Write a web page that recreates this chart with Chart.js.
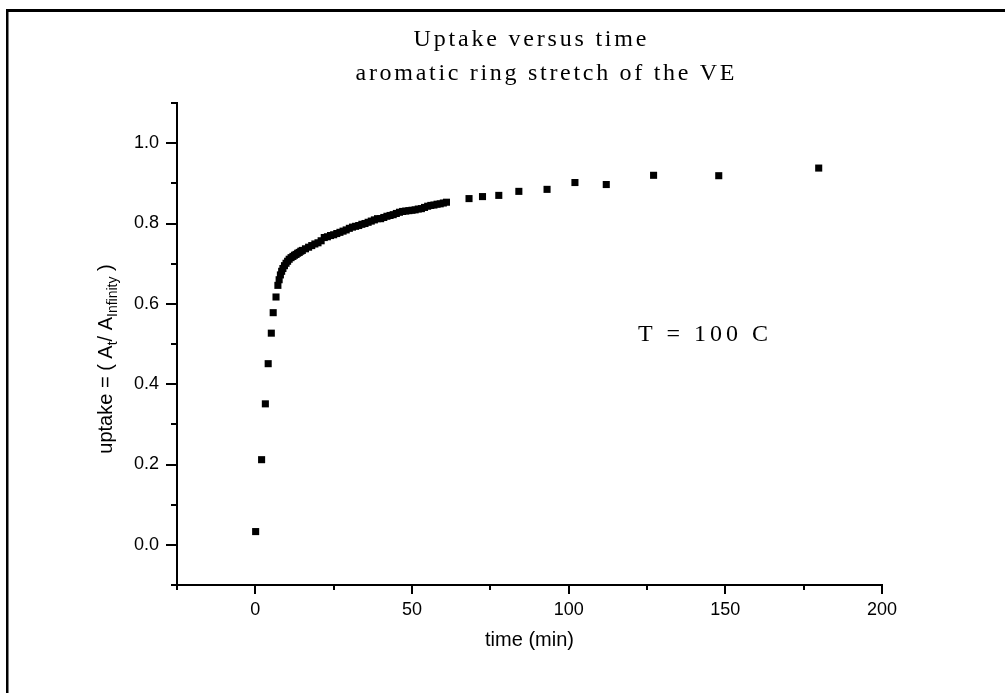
<!DOCTYPE html>
<html><head><meta charset="utf-8">
<script src="https://cdn.jsdelivr.net/npm/chart.js@4/dist/chart.umd.min.js"></script>
<style>html,body{margin:0;padding:0;background:#fff}#wrap{width:1005px;height:693px;position:relative}</style>
</head><body><div id="wrap"><canvas id="c" width="1005" height="693"></canvas></div>
<script>
const titleLines = ["Uptake versus time", "aromatic ring stretch of the VE"];
const xAxisTitle = "time (min)";
const yAxisTitleParts = [
  {text: "uptake = ( A", sub: false},
  {text: "t", sub: true},
  {text: "/ A", sub: false},
  {text: "Infinity", sub: true},
  {text: " )", sub: false}
];
const annotationText = "T = 100 C";
const xTickLabels = [0, 50, 100, 150, 200];
const yTickLabels = [0.0, 0.2, 0.4, 0.6, 0.8, 1.0];

const timeMin = [0.1, 2.0, 3.2, 4.1, 5.1, 5.7, 6.6, 7.2,
  7.6, 8.0, 8.4, 8.8, 9.3, 9.8, 10.3, 10.8, 11.4, 12, 12.5, 13, 13.5, 14, 14.5, 15,
  16, 17, 18, 19, 20, 21, 22, 23, 24, 25, 26, 27, 28, 29, 30,
  31, 32, 33, 34, 35, 36, 37, 38, 39, 40, 41, 42, 43, 44, 45, 46, 47, 48, 49, 50,
  51, 52, 53, 54, 55, 56, 57, 58, 59, 60, 61,
  68.2, 72.5, 77.7, 84.1, 93.1, 102.0, 112.0, 127.1, 147.9, 179.8];
const uptake = [0.033, 0.212, 0.351, 0.451, 0.527, 0.578, 0.617, 0.646,
  0.660, 0.672, 0.681, 0.688, 0.695, 0.701, 0.706, 0.711, 0.715, 0.718, 0.721, 0.723, 0.726, 0.728, 0.731, 0.733,
  0.737, 0.741, 0.745, 0.749, 0.752, 0.757, 0.765, 0.767, 0.770, 0.772, 0.775, 0.778, 0.781, 0.784, 0.788,
  0.791, 0.793, 0.795, 0.798, 0.800, 0.803, 0.806, 0.809, 0.812, 0.812, 0.815, 0.818, 0.820, 0.822, 0.825, 0.828, 0.830, 0.831, 0.832, 0.833,
  0.834, 0.836, 0.837, 0.840, 0.843, 0.845, 0.846, 0.848, 0.849, 0.851, 0.853,
  0.862, 0.867, 0.870, 0.880, 0.885, 0.902, 0.897, 0.920, 0.919, 0.938];

const SANS = "'Liberation Sans', Arial, sans-serif";
const SERIF = "'Liberation Serif', 'Times New Roman', serif";

function isMajorX(v){ return xTickLabels.some(t => Math.abs(t - v) < 1e-6); }
function isMajorY(v){ return yTickLabels.some(t => Math.abs(t - v) < 1e-6); }

function drawSpaced(ctx, text, cx, y, ls){
  ctx.letterSpacing = ls + 'px';
  const w = ctx.measureText(text).width - ls;
  ctx.textAlign = 'left';
  ctx.fillText(text, cx - w / 2, y);
  ctx.letterSpacing = '0px';
}

const decor = {
  id: 'decor',
  beforeDraw(chart){
    const ctx = chart.ctx;
    ctx.save();
    ctx.fillStyle = '#fff';
    ctx.fillRect(0, 0, chart.width, chart.height);
    ctx.restore();
  },
  afterDraw(chart){
    const ctx = chart.ctx;
    const area = chart.chartArea;
    const xs = chart.scales.x, ys = chart.scales.y;
    ctx.save();
    // outer frame
    ctx.fillStyle = '#000';
    ctx.fillRect(6, 9, 999, 3);
    ctx.fillRect(6, 9, 2.5, 684);
    // tick marks
    ctx.strokeStyle = '#000';
    ctx.lineWidth = 2;
    ctx.beginPath();
    xs.ticks.forEach(t => {
      const px = Math.round(xs.getPixelForValue(t.value));
      const len = isMajorX(t.value) ? 9 : 5;
      ctx.moveTo(px, area.bottom);
      ctx.lineTo(px, area.bottom + len);
    });
    ys.ticks.forEach(t => {
      const py = Math.round(ys.getPixelForValue(t.value));
      const len = isMajorY(t.value) ? 11 : 6;
      ctx.moveTo(area.left, py);
      ctx.lineTo(area.left - len, py);
    });
    ctx.stroke();
    // titles
    ctx.fillStyle = '#000';
    ctx.textBaseline = 'alphabetic';
    ctx.font = '24px ' + SERIF;
    drawSpaced(ctx, titleLines[0], 530, 46, 2.8);
    drawSpaced(ctx, titleLines[1], 545, 80, 2.7);
    // annotation
    ctx.font = '24px ' + SERIF;
    drawSpaced(ctx, annotationText, 703, 341, 4);
    // y axis title with subscripts
    ctx.translate(112, 359);
    ctx.rotate(-Math.PI / 2);
    const mainFont = '20px ' + SANS, subFont = '14px ' + SANS;
    let total = 0;
    yAxisTitleParts.forEach(p => { ctx.font = p.sub ? subFont : mainFont; total += ctx.measureText(p.text).width; });
    let x = -total / 2;
    ctx.textAlign = 'left';
    yAxisTitleParts.forEach(p => {
      ctx.font = p.sub ? subFont : mainFont;
      ctx.fillText(p.text, x, p.sub ? 5 : 0);
      x += ctx.measureText(p.text).width;
    });
    ctx.restore();
  }
};

new Chart(document.getElementById('c'), {
  type: 'scatter',
  data: {
    datasets: [{
      data: timeMin.map((t, i) => ({x: t, y: uptake[i]})),
      pointStyle: 'rect',
      pointRadius: 5,
      pointHoverRadius: 5,
      backgroundColor: '#000',
      borderWidth: 0
    }]
  },
  options: {
    responsive: false,
    animation: false,
    devicePixelRatio: 1,
    events: [],
    layout: {padding: {top: 103, right: 123, left: 0, bottom: 0}},
    plugins: {legend: {display: false}, tooltip: {enabled: false}, title: {display: false}},
    scales: {
      x: {
        type: 'linear', min: -25, max: 200,
        afterFit: s => { s.height = 108; },
        border: {display: true, color: '#000', width: 2},
        grid: {display: true, drawOnChartArea: false, drawTicks: true, tickLength: 9, color: 'rgba(0,0,0,0)'},
        ticks: {stepSize: 25, autoSkip: false, maxRotation: 0, padding: 5, color: '#000',
          font: {family: SANS, size: 18},
          callback: v => isMajorX(v) ? String(v) : ''},
        title: {display: true, text: xAxisTitle, color: '#000', font: {family: SANS, size: 20}, padding: {top: 0, bottom: 41}}
      },
      y: {
        type: 'linear', min: -0.1, max: 1.1,
        afterFit: s => { s.width = 177; },
        border: {display: true, color: '#000', width: 2},
        grid: {display: true, drawOnChartArea: false, drawTicks: true, tickLength: 11, color: 'rgba(0,0,0,0)'},
        ticks: {stepSize: 0.1, autoSkip: false, padding: 7, color: '#000',
          font: {family: SANS, size: 18},
          callback: v => isMajorY(v) ? v.toFixed(1) : ''}
      }
    }
  },
  plugins: [decor]
});
</script></body></html>
